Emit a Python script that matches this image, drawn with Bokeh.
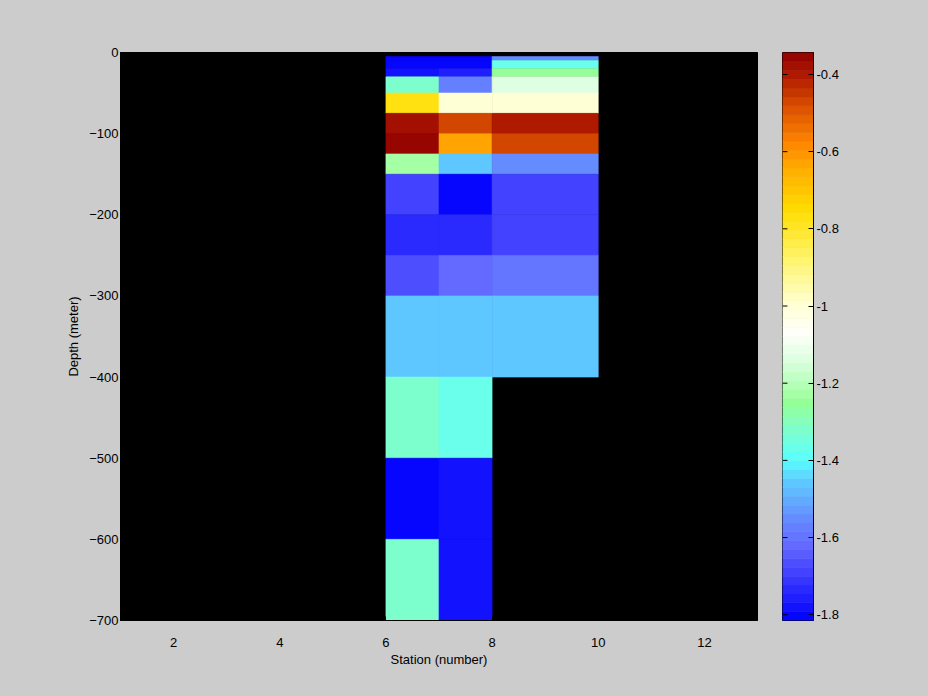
import numpy as np
from bokeh.plotting import figure
from bokeh.models import (LinearColorMapper, FixedTicker, NumeralTickFormatter,
                          ColumnDataSource, Range1d)
from bokeh.layouts import row
from bokeh.embed import file_html
from bokeh.resources import INLINE
from bokeh.transform import transform

# ---------------- data ----------------
station_edges = [6, 7, 8, 10]
depth_edges = [-5, -10, -20, -30, -50, -75, -100, -125, -150, -200, -250, -300, -400, -500, -600, -700]
# one value per depth cell (between consecutive depth_edges), NaN = no data
col_6_7 = [-1.81, -1.81, -1.77, -1.33, -0.77, -0.37, -0.345, -1.23, -1.70, -1.73, -1.66, -1.46, -1.33, -1.80, -1.33]
col_7_8 = [-1.81, -1.81, -1.75, -1.57, -1.00, -0.46, -0.64, -1.46, -1.81, -1.73, -1.63, -1.46, -1.37, -1.77, -1.77]
col_8_10 = [-1.55, -1.37, -1.25, -1.13, -1.00, -0.40, -0.48, -1.55, -1.70, -1.68, -1.59, -1.46, np.nan, np.nan, np.nan]
columns = [col_6_7, col_7_8, col_8_10]

x_ticks = [2, 4, 6, 8, 10, 12]
y_ticks = [-700, -600, -500, -400, -300, -200, -100, 0]
cbar_ticks = [-1.8, -1.6, -1.4, -1.2, -1.0, -0.8, -0.6, -0.4]
c_low, c_high = -1.815, -0.343
n_colors = 64

# colormap anchors (value, rgb)
anchors = [
    (-1.815, (0, 0, 255)),
    (-1.70, (60, 60, 255)),
    (-1.62, (100, 105, 255)),
    (-1.55, (100, 140, 255)),
    (-1.45, (95, 205, 255)),
    (-1.40, (90, 255, 255)),
    (-1.32, (125, 255, 205)),
    (-1.25, (150, 255, 150)),
    (-1.15, (215, 255, 220)),
    (-1.07, (255, 255, 250)),
    (-1.00, (255, 255, 215)),
    (-0.88, (255, 245, 110)),
    (-0.75, (255, 220, 0)),
    (-0.65, (255, 175, 0)),
    (-0.58, (255, 135, 0)),
    (-0.50, (225, 90, 0)),
    (-0.40, (175, 25, 0)),
    (-0.343, (145, 0, 0)),
]
av = np.array([a[0] for a in anchors])
ac = np.array([a[1] for a in anchors], dtype=float)
centers = c_low + (np.arange(n_colors) + 0.5) * (c_high - c_low) / n_colors
palette = []
for v in centers:
    rgb = [int(round(np.interp(v, av, ac[:, k]))) for k in range(3)]
    palette.append("#%02x%02x%02x" % tuple(rgb))

mapper = LinearColorMapper(palette=palette, low=c_low, high=c_high)

# ---------------- cells ----------------
L, R, T, B, V = [], [], [], [], []
for j, col in enumerate(columns):
    for i, val in enumerate(col):
        if np.isnan(val):
            continue
        L.append(station_edges[j]); R.append(station_edges[j + 1])
        T.append(depth_edges[i]); B.append(depth_edges[i + 1]); V.append(val)
src = ColumnDataSource(dict(left=L, right=R, top=T, bottom=B, value=V))

BG = "#cccccc"
FONT = "Liberation Sans"
FS = "13px"

p = figure(width=768, height=696, output_backend="svg", toolbar_location=None,
           x_range=Range1d(1, 13), y_range=Range1d(-700, 0),
           min_border_left=120, min_border_right=11, min_border_top=52, min_border_bottom=76)
p.background_fill_color = "black"
p.border_fill_color = BG
p.outline_line_color = "black"
p.grid.visible = False
p.quad(left="left", right="right", top="top", bottom="bottom", source=src,
       fill_color=transform("value", mapper), line_color=transform("value", mapper), line_width=0.6)

for ax in (p.xaxis[0], p.yaxis[0]):
    ax.major_tick_in = 4
    ax.major_tick_out = 0
    ax.minor_tick_line_color = None
    ax.axis_line_color = "black"
    ax.major_label_text_font = FONT
    ax.major_label_text_font_size = FS
    ax.major_label_text_color = "black"
    ax.axis_label_text_font = FONT
    ax.axis_label_text_font_size = FS
    ax.axis_label_text_font_style = "normal"
    ax.axis_label_text_color = "black"
p.xaxis.ticker = FixedTicker(ticks=x_ticks)
p.yaxis.ticker = FixedTicker(ticks=y_ticks)
p.xaxis.axis_label = "Station (number)"
p.yaxis.axis_label = "Depth (meter)"
p.xaxis.major_label_standoff = 17
p.xaxis.axis_label_standoff = 2
p.yaxis.major_label_standoff = 2
p.yaxis.axis_label_standoff = 5

# ---------------- colorbar ----------------
edges = np.linspace(c_low, c_high, n_colors + 1)
cb_src = ColumnDataSource(dict(bottom=edges[:-1], top=edges[1:], value=centers))
cb = figure(width=125, height=696, output_backend="svg", toolbar_location=None,
            x_range=Range1d(0, 1), y_range=Range1d(c_low, c_high),
            x_axis_type=None, y_axis_location="right",
            min_border_left=14, min_border_right=80, min_border_top=51, min_border_bottom=76)
cb.border_fill_color = BG
cb.background_fill_color = BG
cb.outline_line_color = "black"
cb.grid.visible = False
cb.quad(left=0, right=1, bottom="bottom", top="top", source=cb_src,
        fill_color=transform("value", mapper), line_color=transform("value", mapper), line_width=0.6)
# inward ticks on the left edge of the colour bar
cb.segment(x0=0, x1=0.16, y0=cbar_ticks, y1=cbar_ticks, line_color="black", line_width=1)
ra = cb.yaxis[0]
ra.ticker = FixedTicker(ticks=cbar_ticks)
ra.formatter = NumeralTickFormatter(format="0.[0]")
ra.major_tick_in = 5
ra.major_tick_out = 0
ra.minor_tick_line_color = None
ra.major_label_text_font = FONT
ra.major_label_text_font_size = FS
ra.major_label_text_color = "black"
ra.major_label_standoff = 3

layout = row(p, cb)
html = file_html(layout, INLINE)
html = html.replace("<head>", "<head><style>body{background:#cccccc;}</style>", 1)
open("out.html", "w").write(html)
